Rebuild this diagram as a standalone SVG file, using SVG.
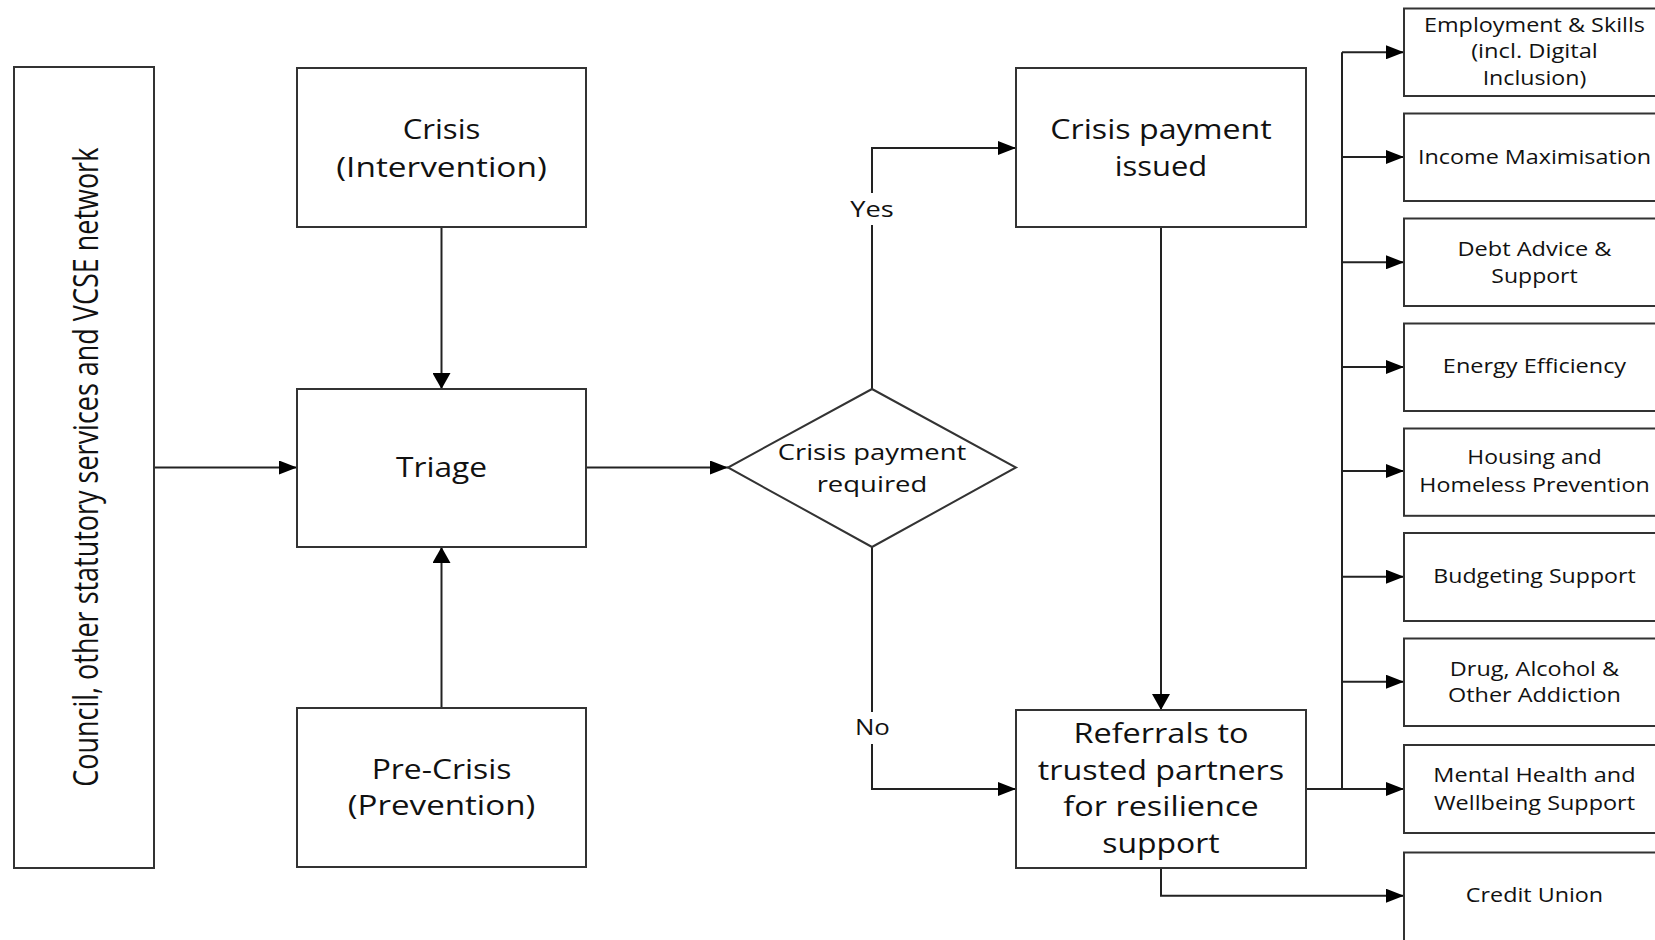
<svg xmlns="http://www.w3.org/2000/svg" width="1655" height="940" viewBox="0 0 1655 940">
<style>
.box{fill:#fff;stroke:#333;stroke-width:2}
.conn{fill:none;stroke:#222;stroke-width:2}
.t{font-family:"Open Sans","Liberation Sans",sans-serif;fill:#111;text-anchor:middle}
.big{font-size:27px}
.med{font-size:22.5px}
.sm{font-size:19.5px}
.lbl{font-size:22px}
</style>
<defs>
<marker id="ah" markerUnits="userSpaceOnUse" markerWidth="18" markerHeight="14" viewBox="0 0 18 14" refX="18" refY="7" orient="auto"><path d="M0,0 L18,7 L0,14 z" fill="#000"/></marker>
<marker id="av" markerUnits="userSpaceOnUse" markerWidth="16" markerHeight="18" viewBox="0 0 16 18" refX="16" refY="9" orient="auto"><path d="M0,0 L16,9 L0,18 z" fill="#000"/></marker>
</defs>
<rect width="1655" height="940" fill="#fff"/>
<g id="connectors">
<path class="conn" d="M154,467.5 H297" marker-end="url(#ah)"/>
<path class="conn" d="M441.5,227 V389" marker-end="url(#av)"/>
<path class="conn" d="M441.5,708 V547" marker-end="url(#av)"/>
<path class="conn" d="M586,467.5 H728" marker-end="url(#ah)"/>
<path class="conn" d="M872,389 V148 H1016" marker-end="url(#ah)"/>
<path class="conn" d="M872,547 V789 H1016" marker-end="url(#ah)"/>
<path class="conn" d="M1161,227 V710" marker-end="url(#av)"/>
<path class="conn" d="M1306,789 H1404" marker-end="url(#ah)"/>
<path class="conn" d="M1342,789 V52.3"/>
<path class="conn" d="M1342,52.3 H1404" marker-end="url(#ah)"/>
<path class="conn" d="M1342,157 H1404" marker-end="url(#ah)"/>
<path class="conn" d="M1342,262.3 H1404" marker-end="url(#ah)"/>
<path class="conn" d="M1342,367 H1404" marker-end="url(#ah)"/>
<path class="conn" d="M1342,471 H1404" marker-end="url(#ah)"/>
<path class="conn" d="M1342,576.7 H1404" marker-end="url(#ah)"/>
<path class="conn" d="M1342,681.7 H1404" marker-end="url(#ah)"/>
<path class="conn" d="M1161,868 V895.7 H1404" marker-end="url(#ah)"/>
<rect x="850" y="193" width="44" height="32" fill="#fff"/>
<text class="t lbl" x="872" y="216.7" textLength="43.5" lengthAdjust="spacingAndGlyphs">Yes</text>
<rect x="852" y="712" width="40" height="32" fill="#fff"/>
<text class="t lbl" x="872.4" y="735" textLength="35" lengthAdjust="spacingAndGlyphs">No</text>
</g>
<g id="network">
<rect class="box" x="14" y="67" width="140" height="801"/>
<text class="t" style="font-size:28px" transform="translate(97.5,467.2) rotate(-90) scale(1,1.25)" textLength="639" lengthAdjust="spacingAndGlyphs">Council, other statutory services and VCSE network</text>
</g>
<g id="crisis">
<rect class="box" x="297" y="68" width="289" height="159"/>
<text class="t big" x="441.5" y="139.3" textLength="77.7" lengthAdjust="spacingAndGlyphs">Crisis</text>
<text class="t big" x="441.5" y="176.5" textLength="210.5" lengthAdjust="spacingAndGlyphs">(Intervention)</text>
</g>
<g id="triage">
<rect class="box" x="297" y="389" width="289" height="158"/>
<text class="t big" x="441.5" y="476.7" textLength="91" lengthAdjust="spacingAndGlyphs">Triage</text>
</g>
<g id="precrisis">
<rect class="box" x="297" y="708" width="289" height="159"/>
<text class="t big" x="441.5" y="779.3" textLength="139.7" lengthAdjust="spacingAndGlyphs">Pre-Crisis</text>
<text class="t big" x="441.5" y="815.3" textLength="187.5" lengthAdjust="spacingAndGlyphs">(Prevention)</text>
</g>
<g id="decision">
<polygon class="box" points="872,389 1016,467.5 872,547 728,467.5"/>
<text class="t med" x="872" y="460" textLength="188.6" lengthAdjust="spacingAndGlyphs">Crisis payment</text>
<text class="t med" x="872" y="491.5" textLength="110.7" lengthAdjust="spacingAndGlyphs">required</text>
</g>
<g id="payment">
<rect class="box" x="1016" y="68" width="290" height="159"/>
<text class="t big" x="1161" y="139" textLength="221.4" lengthAdjust="spacingAndGlyphs">Crisis payment</text>
<text class="t big" x="1161" y="176" textLength="92.5" lengthAdjust="spacingAndGlyphs">issued</text>
</g>
<g id="referrals">
<rect class="box" x="1016" y="710" width="290" height="158"/>
<text class="t big" x="1161" y="743" textLength="175.2" lengthAdjust="spacingAndGlyphs">Referrals to</text>
<text class="t big" x="1161" y="779.5" textLength="246.3" lengthAdjust="spacingAndGlyphs">trusted partners</text>
<text class="t big" x="1161" y="816" textLength="195.3" lengthAdjust="spacingAndGlyphs">for resilience</text>
<text class="t big" x="1161" y="852.5" textLength="117.4" lengthAdjust="spacingAndGlyphs">support</text>
</g>
<g id="employment">
<rect class="box" x="1404" y="8.5" width="262" height="87.5"/>
<text class="t sm" x="1534.5" y="31.7" textLength="221" lengthAdjust="spacingAndGlyphs">Employment &amp; Skills</text>
<text class="t sm" x="1534.5" y="58.3" textLength="126.7" lengthAdjust="spacingAndGlyphs">(incl. Digital</text>
<text class="t sm" x="1534.5" y="85" textLength="103.7" lengthAdjust="spacingAndGlyphs">Inclusion)</text>
</g>
<g id="income">
<rect class="box" x="1404" y="113.5" width="262" height="87.5"/>
<text class="t sm" x="1534.5" y="164.3" textLength="233" lengthAdjust="spacingAndGlyphs">Income Maximisation</text>
</g>
<g id="debt">
<rect class="box" x="1404" y="218.5" width="262" height="87.5"/>
<text class="t sm" x="1534.5" y="255.7" textLength="154" lengthAdjust="spacingAndGlyphs">Debt Advice &amp;</text>
<text class="t sm" x="1534.5" y="283" textLength="86.3" lengthAdjust="spacingAndGlyphs">Support</text>
</g>
<g id="energy">
<rect class="box" x="1404" y="323.5" width="262" height="87.5"/>
<text class="t sm" x="1534.5" y="373.3" textLength="183.3" lengthAdjust="spacingAndGlyphs">Energy Efficiency</text>
</g>
<g id="housing">
<rect class="box" x="1404" y="428.5" width="262" height="87.3"/>
<text class="t sm" x="1534.5" y="464.3" textLength="134.3" lengthAdjust="spacingAndGlyphs">Housing and</text>
<text class="t sm" x="1534.5" y="492.3" textLength="230.3" lengthAdjust="spacingAndGlyphs">Homeless Prevention</text>
</g>
<g id="budgeting">
<rect class="box" x="1404" y="533" width="262" height="88"/>
<text class="t sm" x="1534.5" y="583.3" textLength="202.3" lengthAdjust="spacingAndGlyphs">Budgeting Support</text>
</g>
<g id="drug">
<rect class="box" x="1404" y="638.5" width="262" height="87.5"/>
<text class="t sm" x="1534.5" y="676" textLength="169.3" lengthAdjust="spacingAndGlyphs">Drug, Alcohol &amp;</text>
<text class="t sm" x="1534.5" y="701.7" textLength="173" lengthAdjust="spacingAndGlyphs">Other Addiction</text>
</g>
<g id="mental">
<rect class="box" x="1404" y="745" width="262" height="88"/>
<text class="t sm" x="1534.5" y="782.3" textLength="202.3" lengthAdjust="spacingAndGlyphs">Mental Health and</text>
<text class="t sm" x="1534.5" y="810" textLength="201" lengthAdjust="spacingAndGlyphs">Wellbeing Support</text>
</g>
<g id="credit">
<rect class="box" x="1404" y="852.5" width="262" height="100"/>
<text class="t sm" x="1534.5" y="902.3" textLength="137.3" lengthAdjust="spacingAndGlyphs">Credit Union</text>
</g>
</svg>
